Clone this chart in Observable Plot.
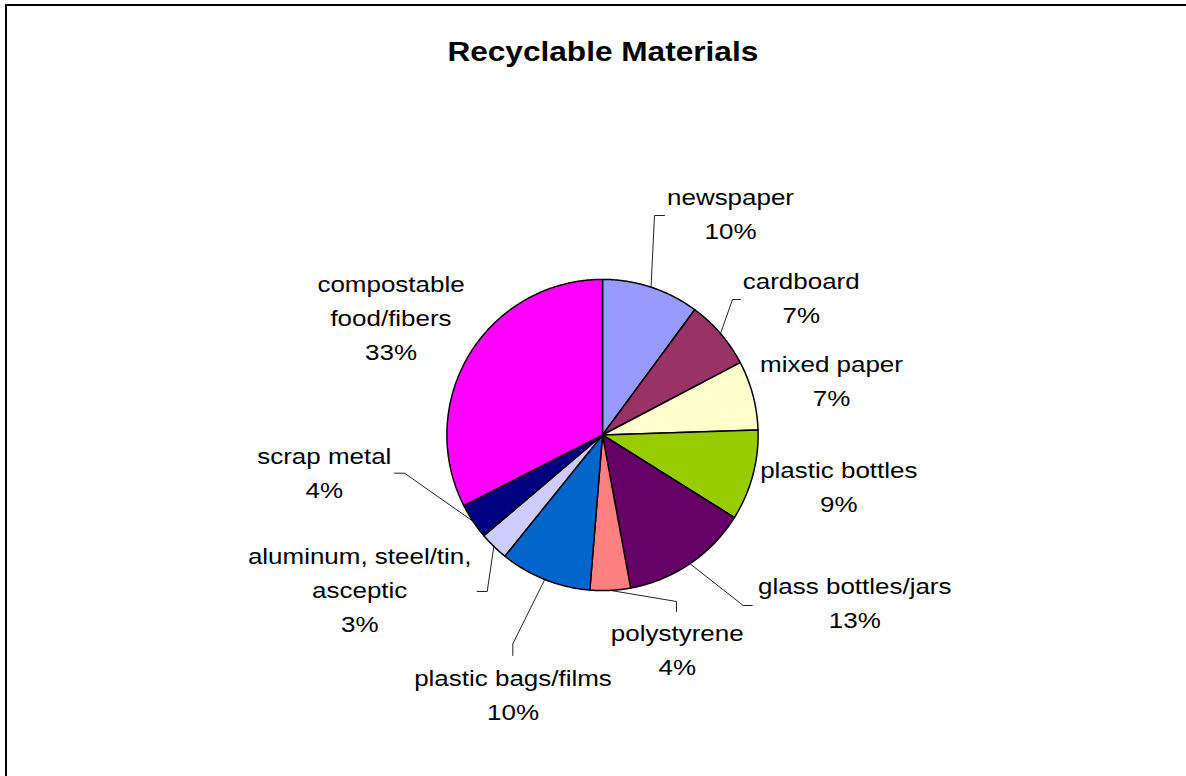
<!DOCTYPE html>
<html>
<head>
<meta charset="utf-8">
<script src="https://cdn.jsdelivr.net/npm/d3@7"></script>
<script src="https://cdn.jsdelivr.net/npm/@observablehq/plot@0.6"></script>
<style>
  html, body { margin: 0; padding: 0; background: #fff; overflow: hidden; width: 1186px; height: 776px; }
  #frame { position: absolute; left: 5px; top: 4px; width: 2000px; height: 2000px; border-left: 2px solid #000; border-top: 2px solid #000; pointer-events: none; }
  #head { position: relative; height: 90px; }
  #title { position: absolute; left: 0; top: 39px; width: 1205px; text-align: center; font: bold 27px "Liberation Sans", Arial, sans-serif; line-height: 27px; color: #000; }
  #title span { display: inline-block; transform: scaleX(1.17); transform-origin: 50% 50%; }
  #chart svg { display: block; }
</style>
</head>
<body>
<div id="frame"></div>
<div id="head"><div id="title"><span>Recyclable Materials</span></div></div>
<div id="chart"></div>
<script>
// ---- data ----
const names = ["newspaper", "cardboard", "mixed paper", "plastic bottles", "glass bottles/jars",
  "polystyrene", "plastic bags/films", "aluminum, steel/tin, asceptic", "scrap metal", "compostable food/fibers"];
const values = [10.1, 7.2, 7.2, 9.4, 13.2, 4.2, 9.5, 3.0, 3.7, 32.5];
const labelLines = [["newspaper"], ["cardboard"], ["mixed paper"], ["plastic bottles"], ["glass bottles/jars"],
  ["polystyrene"], ["plastic bags/films"], ["aluminum, steel/tin,", "asceptic"], ["scrap metal"], ["compostable", "food/fibers"]];
const colors = ["#9999FF", "#993366", "#FFFFCC", "#99CC00", "#660066", "#FF8080", "#0066CC", "#CCCCFF", "#000080", "#FF00FF"];

// ---- layout (page coordinates) ----
const pieCenter = [602, 434.5];
const pieRadius = 155.6;
const labelAt = [[730, 197], [800.7, 281], [831, 364], [838.3, 470], [854.3, 586],
  [676.7, 633], [512.5, 678], [359.2, 556], [323.8, 456], [390.5, 284]];
const leaderElbows = [[[654, 215], [664, 215]], [[732, 299], [740, 299]], null, null, [[742.7, 605], [751.7, 605]],
  [[676, 601], [676, 611]], [[512.3, 643.3], [512.3, 655]], [[486.7, 591], [476.7, 591]], [[404, 472.7], [394, 472.7]], null];
const lineStep = 34;
const textStretch = 1.18;

// ---- build geometry from the values ----
const data = names.map((name, i) => ({name, value: values[i], i}));
const arcs = d3.pie().sort(null).value(d => d.value)(data);
const [cx, cy] = pieCenter;
const pt = (a, r) => ({x: cx + r * Math.sin(a), y: cy - r * Math.cos(a)});

const slicePts = [];
arcs.forEach(a => {
  const n = Math.max(2, Math.ceil((a.endAngle - a.startAngle) / (Math.PI / 360)));
  slicePts.push({name: a.data.name, ...pt(0, 0)});
  for (let k = 0; k <= n; k++) {
    const ang = a.startAngle + (a.endAngle - a.startAngle) * k / n;
    slicePts.push({name: a.data.name, ...pt(ang, pieRadius)});
  }
  slicePts.push({name: a.data.name, ...pt(0, 0)});
});

const leaderPts = [];
arcs.forEach(a => {
  const el = leaderElbows[a.data.i];
  if (!el) return;
  const mid = (a.startAngle + a.endAngle) / 2;
  leaderPts.push({name: a.data.name, ...pt(mid, pieRadius)});
  el.forEach(([x, y]) => leaderPts.push({name: a.data.name, x, y}));
});

const textRows = [];
data.forEach(d => {
  const lines = labelLines[d.i].concat([Math.round(d.value) + "%"]);
  const [lx, ly] = labelAt[d.i];
  lines.forEach((t, k) => textRows.push({x: lx, y: ly + k * lineStep, text: t}));
});

const headH = 90;
const svg = Plot.plot({
  width: 1186,
  height: 776 - headH,
  margin: 0,
  x: {domain: [0, 1186], range: [0, 1186], axis: null},
  y: {domain: [headH, 776], range: [0, 776 - headH], axis: null},
  color: {domain: names, range: colors},
  style: {background: "transparent", overflow: "visible"},
  marks: [
    Plot.line(leaderPts, {x: "x", y: "y", z: "name", stroke: "#222", strokeWidth: 1}),
    Plot.line(slicePts, {x: "x", y: "y", z: "name", fill: "name", stroke: "#000", strokeWidth: 1.5, strokeLinejoin: "round"}),
    Plot.text(textRows, {x: "x", y: "y", text: "text", fontSize: 22, fontFamily: "Liberation Sans, Arial, sans-serif",
      fill: "#000", textAnchor: "middle", lineAnchor: "middle"})
  ]
});
document.getElementById("chart").append(svg);
svg.querySelectorAll("text").forEach(t => {
  const len = t.getComputedTextLength();
  t.setAttribute("textLength", (len * textStretch).toFixed(1));
  t.setAttribute("lengthAdjust", "spacingAndGlyphs");
});
</script>
</body>
</html>
